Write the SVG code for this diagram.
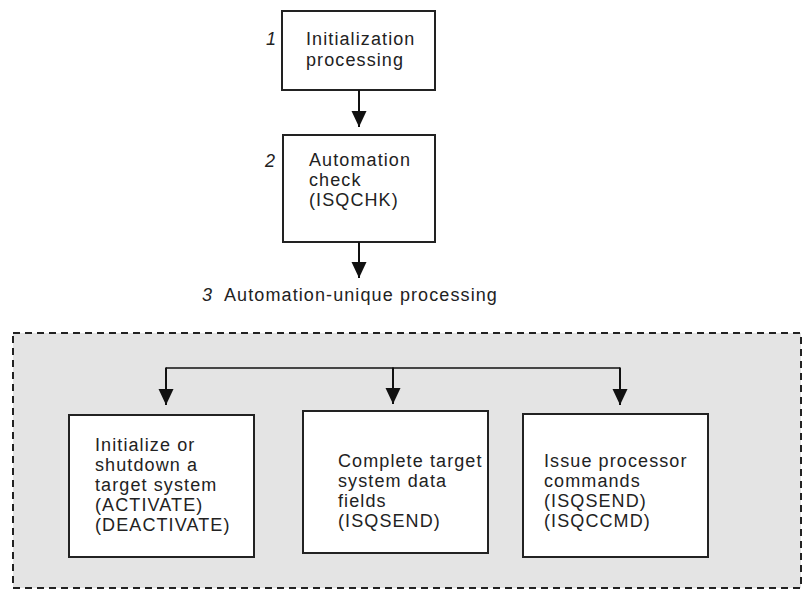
<svg xmlns="http://www.w3.org/2000/svg" width="804" height="589" viewBox="0 0 804 589">
<defs>
<style>
.box{fill:#fff;stroke:#222;stroke-width:2}
.t{font-family:"Liberation Sans",Arial,sans-serif;font-size:18px;letter-spacing:1.1px;fill:#222}
.n{font-family:"Liberation Sans",Arial,sans-serif;font-size:18px;font-style:italic;fill:#222}
.c{fill:none;stroke:#111;stroke-width:2}
</style>
<marker id="ah" markerUnits="userSpaceOnUse" markerWidth="16" markerHeight="16" refX="16" refY="7.5" orient="auto">
<path d="M0,0 L16,7.5 L0,15 z" fill="#111"/>
</marker>
</defs>
<rect width="804" height="589" fill="#fff"/>
<g id="region3">
<rect x="13" y="333" width="788" height="255" fill="#e4e4e4" stroke="#222" stroke-width="2" stroke-dasharray="7 5"/>
</g>
<g id="label3">
<text class="n" x="202" y="301">3</text>
<text class="t" x="224" y="301">Automation-unique processing</text>
</g>
<g id="node1">
<rect class="box" x="282" y="11" width="153" height="79"/>
<text class="n" x="266" y="45">1</text>
<text class="t" x="306" y="45">Initialization</text>
<text class="t" x="306" y="66">processing</text>
</g>
<g id="node2">
<rect class="box" x="283" y="135" width="152" height="107"/>
<text class="n" x="265" y="167">2</text>
<text class="t" x="309" y="166">Automation</text>
<text class="t" x="309" y="186">check</text>
<text class="t" x="309" y="206">(ISQCHK)</text>
</g>
<g id="nodeA">
<rect class="box" x="69" y="415" width="185" height="142"/>
<text class="t" x="95" y="451">Initialize or</text>
<text class="t" x="95" y="471">shutdown a</text>
<text class="t" x="95" y="491">target system</text>
<text class="t" x="95" y="511">(ACTIVATE)</text>
<text class="t" x="95" y="531">(DEACTIVATE)</text>
</g>
<g id="nodeB">
<rect class="box" x="303" y="411" width="185" height="142"/>
<text class="t" x="338" y="467">Complete target</text>
<text class="t" x="338" y="487">system data</text>
<text class="t" x="338" y="507">fields</text>
<text class="t" x="338" y="527">(ISQSEND)</text>
</g>
<g id="nodeC">
<rect class="box" x="523" y="414" width="185" height="143"/>
<text class="t" x="544" y="467">Issue processor</text>
<text class="t" x="544" y="487">commands</text>
<text class="t" x="544" y="507">(ISQSEND)</text>
<text class="t" x="544" y="527">(ISQCCMD)</text>
</g>
<g id="connectors">
<path class="c" d="M359,90 V127" marker-end="url(#ah)"/>
<path class="c" d="M359,242 V278" marker-end="url(#ah)"/>
<path d="M166,368 H620" fill="none" stroke="#111" stroke-width="1.5"/>
<path class="c" d="M166,367.5 V405" marker-end="url(#ah)"/>
<path class="c" d="M393,367.5 V404" marker-end="url(#ah)"/>
<path class="c" d="M620,367.5 V405" marker-end="url(#ah)"/>
</g>
</svg>
